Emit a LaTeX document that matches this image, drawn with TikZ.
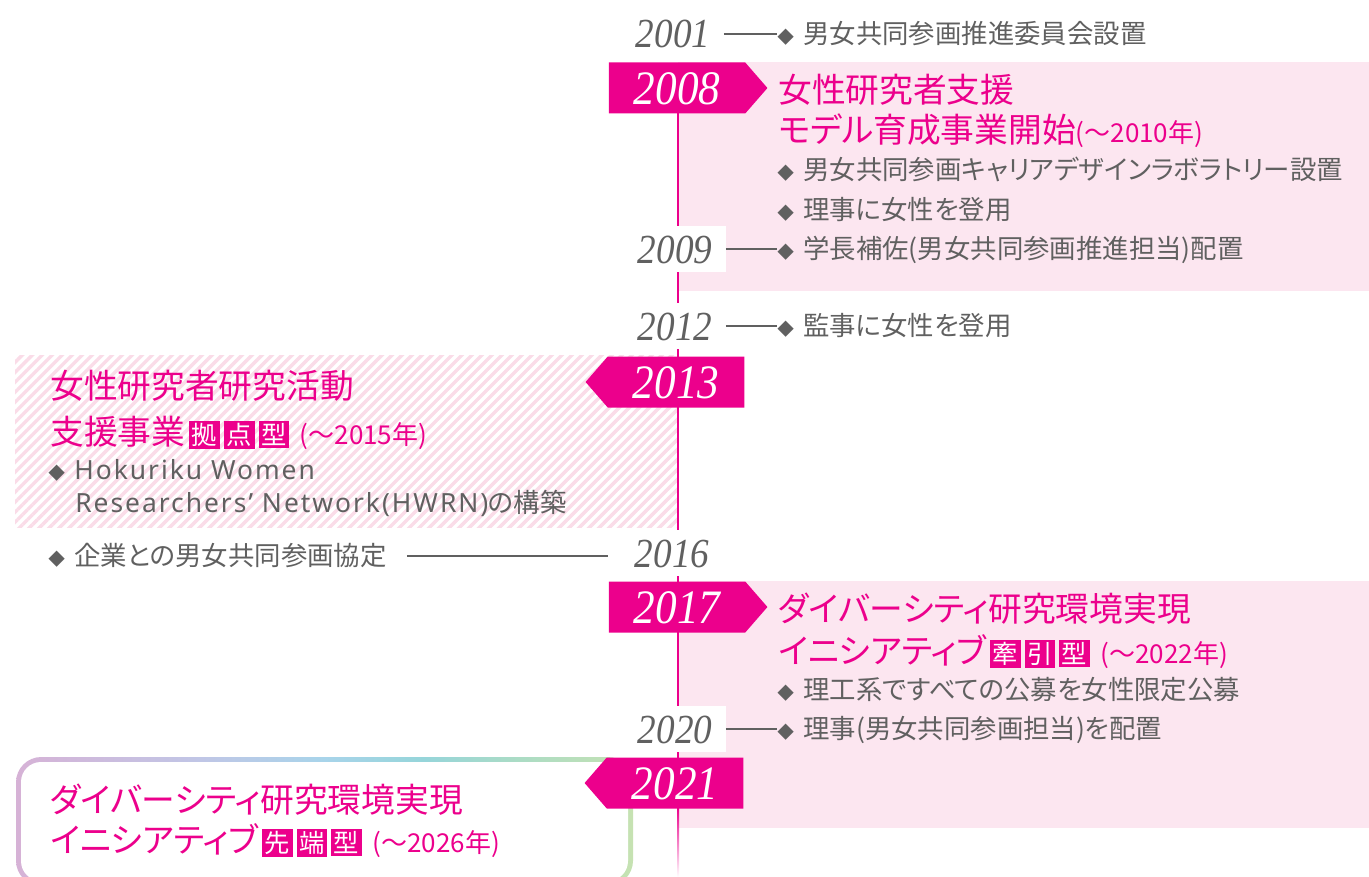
\documentclass[tikz,border=0pt]{standalone}
\usepackage{fontspec}
\setmainfont[RawFeature=+palt]{Noto Sans CJK JP}
\newfontfamily\yearfont[FakeStretch=0.9]{Liberation Serif}
\newfontfamily\latinfont[LetterSpace=7.5]{Noto Sans}
\usetikzlibrary{shapes.symbols, patterns.meta}

\definecolor{tagpink}{HTML}{EC008C}
\definecolor{bgpink}{HTML}{FCE6F0}
\definecolor{stripepink}{HTML}{FADCE8}
\definecolor{txtgray}{HTML}{606060}
\definecolor{gA}{HTML}{D6B2D6}
\definecolor{gB}{HTML}{C0C6E6}
\definecolor{gC}{HTML}{A8D4EA}
\definecolor{gD}{HTML}{96D5DA}
\definecolor{gE}{HTML}{ACDCC4}
\definecolor{gF}{HTML}{C6E2B2}

\pgfdeclarehorizontalshading{rainbowline}{100bp}{color(0bp)=(gA); color(25bp)=(gA); color(40bp)=(gB); color(50bp)=(gC); color(58bp)=(gD); color(66bp)=(gE); color(75bp)=(gF); color(100bp)=(gF)}

\newcommand{\kb}[1]{{\setlength{\fboxsep}{2pt}\colorbox{tagpink}{\textcolor{white}{\fontsize{19}{19}\selectfont #1}}}}
\newcommand{\dia}{{\fontsize{12.5}{12.5}\selectfont ◆}\hspace{7pt}}
\newcommand{\sm}[1]{{\fontsize{19.5}{19.5}\selectfont #1}}

\begin{document}
\begin{tikzpicture}[x=0.75pt, y=-0.75pt,
    year/.style = {font=\yearfont\itshape\fontsize{31}{31}\selectfont, text=txtgray, fill=white,
      minimum width=75.75pt, minimum height=34.5pt, text height=21pt, text depth=0pt, inner sep=0pt},
    tag/.style = {signal, fill=tagpink, text=white, font=\yearfont\itshape\fontsize{36}{36}\selectfont,
      minimum height=38.25pt, minimum width=119pt, text height=24.5pt, text depth=0pt, inner sep=0pt,
      signal pointer angle=98},
    ttl/.style = {anchor=west, inner sep=0pt, text=tagpink, font=\fontsize{25.3}{25.3}\selectfont,
      text height=20pt, text depth=1.3pt},
    gtx/.style = {anchor=west, inner sep=0pt, text=txtgray, font=\fontsize{19.8}{19.8}\selectfont,
      text height=15.8pt, text depth=1pt},
    conn/.style = {draw=txtgray, line width=1.1pt},
    tline/.style = {draw=tagpink, line width=2pt}]
  \clip (0,0) rectangle (1369,877);

  \fill[bgpink] (678,62) rectangle (1369,291);
  \fill[bgpink] (678,581) rectangle (1369,828);
  \fill[pattern={Lines[angle=45, distance=5.3pt, line width=2.6pt]}, pattern color=stripepink]
    (15,355) rectangle (677,527);
  \shade[shading=rainbowline, rounded corners=19pt] (16,757) rectangle (633,886);
  \fill[white, rounded corners=15pt] (21,762) rectangle (628,881);

  \draw[tline] (678,113) -- (678,808);
  \shade[top color=tagpink, bottom color=white] (677,808) rectangle (679,877);

  % years
  \node[year] (y2001) at (673,34) {2001};
  \node[year] (y2009) at (675,249) {2009};
  \node[year] (y2012) at (675,326) {2012};
  \node[year] (y2016) at (672,553) {2016};
  \node[year] (y2020) at (675,729) {2020};

  \node[tag, signal to=east] (t2008) at (677,88) {2008};
  \node[tag, signal to=west] (t2013) at (676,382) {2013};
  \node[tag, signal to=east] (t2017) at (677,607) {2017};
  \node[tag, signal to=west] (t2021) at (675,783) {2021};

  % 2001 - 2012
  \node[gtx] (b2001) at (777,34) {\dia 男女共同参画推進委員会設置};
  \node[ttl] (h2008a) at (778,90) {女性研究者支援};
  \node[ttl] (h2008b) at (778,130) {モデル育成事業開始\sm{(～2010年)}};
  \node[gtx] (b2008a) at (777,170) {\dia 男女共同参画キャリアデザインラボラトリー設置};
  \node[gtx] (b2008b) at (777,210) {\dia 理事に女性を登用};
  \node[gtx] (b2009) at (777,249) {\dia 学長補佐(男女共同参画推進担当)配置};
  \node[gtx] (b2012) at (777,326) {\dia 監事に女性を登用};
  \draw[conn] (y2001.east) -- (b2001.west);
  \draw[conn] (y2009.east) -- (b2009.west);
  \draw[conn] (y2012.east) -- (b2012.west);

  % 2013 - 2016
  \node[ttl] (h2013a) at (50,386) {女性研究者研究活動};
  \node[ttl] (h2013b) at (50,432) {支援事業\kern3pt\kb{拠}\kern3pt\kb{点}\kern3pt\kb{型}\kern8pt\sm{(～2015年)}};
  \node[gtx] (b2013a) at (48,470) {\dia\latinfont Hokuriku Women};
  \node[gtx] (b2013b) at (75,503) {{\latinfont Researchers’ Network(HWRN)}の構築};
  \node[gtx] (b2016) at (48,556) {\dia 企業との男女共同参画協定};
  \draw[conn, shorten <=15pt, shorten >=10pt] (b2016.east) -- (y2016.west |- b2016.east);

  % 2017 - 2020
  \node[ttl] (h2017a) at (778,609) {ダイバーシティ研究環境実現};
  \node[ttl] (h2017b) at (778,651) {イニシアティブ\kern3pt\kb{牽}\kern3pt\kb{引}\kern3pt\kb{型}\kern8pt\sm{(～2022年)}};
  \node[gtx] (b2017) at (777,690) {\dia 理工系ですべての公募を女性限定公募};
  \node[gtx] (b2020) at (777,729) {\dia 理事(男女共同参画担当)を配置};
  \draw[conn] (y2020.east) -- (b2020.west);

  % 2021
  \node[ttl] (h2021a) at (50,800) {ダイバーシティ研究環境実現};
  \node[ttl] (h2021b) at (50,840) {イニシアティブ\kern3pt\kb{先}\kern3pt\kb{端}\kern3pt\kb{型}\kern8pt\sm{(～2026年)}};
\end{tikzpicture}
\end{document}
